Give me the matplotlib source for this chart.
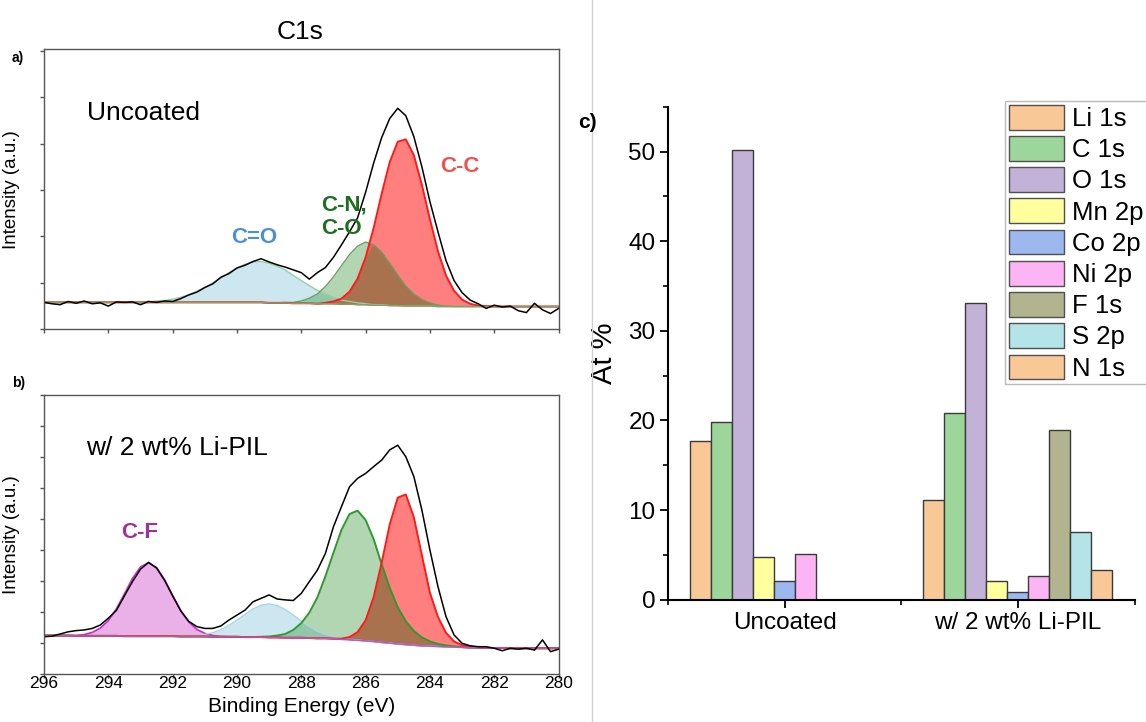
import numpy as np
import matplotlib
matplotlib.use("Agg")
import matplotlib.pyplot as plt
from matplotlib.lines import Line2D
from matplotlib.ticker import MultipleLocator

plt.rcParams["font.family"] = ["Liberation Sans", "DejaVu Sans"]

# binding energy grid of the spectra (eV), 0.25 eV steps from 296 down to 280
ENERGY = np.linspace(296, 280, 65)

# ---- panel a: uncoated C1s (intensity in a.u.) ----
BG_A = [0.58] * 24 + [
    0.58, 0.58, 0.58, 0.58, 0.57, 0.57, 0.57, 0.56,
    0.56, 0.56, 0.55, 0.55, 0.55, 0.54, 0.54, 0.53,
    0.53, 0.52, 0.52, 0.51, 0.51, 0.50, 0.50, 0.50,
    0.50, 0.49, 0.49, 0.49, 0.49, 0.49, 0.49, 0.49,
] + [0.49] * 9
CO_A = [0.0] * 12 + [
    0.01, 0.01, 0.03, 0.04,
    0.07, 0.11, 0.16, 0.24, 0.32, 0.42, 0.53, 0.64,
    0.74, 0.82, 0.87, 0.88, 0.85, 0.79, 0.71, 0.60,
    0.49, 0.38, 0.29, 0.21, 0.14, 0.09, 0.06, 0.04,
    0.02, 0.01, 0.01,
] + [0.0] * 22
CN_A = [0.0] * 30 + [
    0.01, 0.02,
    0.05, 0.11, 0.21, 0.37, 0.58, 0.83, 1.07, 1.26,
    1.35, 1.30, 1.14, 0.91, 0.66, 0.43, 0.26, 0.14,
    0.07, 0.03, 0.01,
] + [0.0] * 14
CC_A = [0.0] * 35 + [
    0.02, 0.05, 0.12, 0.27, 0.56,
    1.02, 1.66, 2.40, 3.09, 3.53, 3.59, 3.25, 2.61,
    1.87, 1.19, 0.67, 0.34, 0.15, 0.06, 0.02, 0.01,
] + [0.0] * 9
RAW_A = [
    0.58, 0.55, 0.53, 0.60, 0.56, 0.61, 0.55, 0.57,
    0.50, 0.59, 0.58, 0.59, 0.53, 0.60, 0.58, 0.61,
    0.60, 0.66, 0.74, 0.80, 0.90, 0.98, 1.12, 1.20,
    1.32, 1.38, 1.46, 1.52, 1.45, 1.39, 1.34, 1.28,
    1.22, 1.08, 1.22, 1.33, 1.55, 1.82, 2.10, 2.40,
    2.95, 3.58, 4.13, 4.54, 4.76, 4.60, 4.15, 3.50,
    2.75, 2.10, 1.48, 1.05, 0.79, 0.63, 0.55, 0.45,
    0.52, 0.48, 0.50, 0.40, 0.36, 0.56, 0.42, 0.34,
    0.45,
]

# ---- panel b: w/ 2 wt% Li-PIL C1s ----
BG_B = [
    1.24, 1.24, 1.24, 1.24, 1.23, 1.23, 1.23, 1.23,
    1.23, 1.23, 1.22, 1.22, 1.22, 1.22, 1.22, 1.22,
    1.22, 1.21, 1.21, 1.21, 1.21, 1.20, 1.20, 1.20,
    1.20, 1.19, 1.19, 1.19, 1.18, 1.18, 1.17, 1.17,
    1.17, 1.16, 1.15, 1.15, 1.14, 1.12, 1.11, 1.09,
    1.07, 1.05, 1.02, 1.00, 0.97, 0.95, 0.93, 0.91,
    0.90, 0.89, 0.88, 0.87, 0.86, 0.85, 0.85, 0.84,
    0.84, 0.84, 0.83, 0.83, 0.83, 0.83, 0.83, 0.83,
    0.83,
]
CF_B = [
    0.0, 0.0, 0.0, 0.0, 0.01, 0.04, 0.11, 0.25,
    0.49, 0.87, 1.36, 1.86, 2.23, 2.37, 2.21, 1.82,
    1.31, 0.84, 0.47, 0.23, 0.10, 0.04, 0.01,
] + [0.0] * 42
CO_B = [0.0] * 17 + [
    0.01, 0.01, 0.03, 0.07, 0.13, 0.23, 0.37,
    0.54, 0.73, 0.91, 1.03, 1.08, 1.03, 0.91, 0.73,
    0.54, 0.37, 0.23, 0.13, 0.07, 0.03, 0.01, 0.01,
] + [0.0] * 25
CN_B = [0.0] * 27 + [
    0.01, 0.03, 0.06, 0.12, 0.25,
    0.47, 0.82, 1.32, 2.00, 2.77, 3.53, 4.05, 4.18,
    3.90, 3.30, 2.52, 1.78, 1.18, 0.75, 0.46, 0.27,
    0.15, 0.08, 0.04, 0.02, 0.01,
] + [0.0] * 12
CC_B = [0.0] * 37 + [
    0.02, 0.08, 0.26,
    0.66, 1.43, 2.57, 3.82, 4.72, 4.84, 4.13, 2.92,
    1.72, 0.95, 0.45, 0.18, 0.07, 0.03, 0.01,
] + [0.0] * 10
RAW_B = [
    1.20, 1.22, 1.29, 1.36, 1.40, 1.42, 1.47, 1.58,
    1.80, 2.05, 2.52, 2.98, 3.38, 3.60, 3.42, 3.02,
    2.52, 2.04, 1.70, 1.53, 1.47, 1.47, 1.55, 1.74,
    1.90, 2.06, 2.33, 2.44, 2.55, 2.42, 2.39, 2.37,
    2.60, 2.98, 3.35, 3.89, 4.75, 5.40, 6.04, 6.31,
    6.47, 6.69, 6.90, 7.23, 7.38, 7.01, 6.37, 5.29,
    4.00, 2.82, 1.85, 1.26, 0.99, 0.91, 0.88, 0.88,
    0.83, 0.75, 0.83, 0.80, 0.83, 0.77, 1.10, 0.72,
    0.80,
]

# ---- panel c: atomic percentages ----
SAMPLES = ["Uncoated", "w/ 2 wt% Li-PIL"]
SPECIES = ["Li 1s", "C 1s", "O 1s", "Mn 2p", "Co 2p", "Ni 2p", "F 1s", "S 2p", "N 1s"]
AT_UNCOATED = [17.7, 19.8, 50.2, 4.8, 2.1, 5.1, np.nan, np.nan, np.nan]
AT_COATED = [11.1, 20.8, 33.1, 2.1, 0.8, 2.6, 18.9, 7.6, 3.3]
BAR_COLORS = ["#F9C897", "#9DD69B", "#C3B2D7", "#FFFF9E", "#9CB8EF",
              "#FDB4F4", "#B1B48F", "#B4E3E8", "#F9C897"]

SPINE = "#555555"
BROWN = "#A8724E"


def style_spectrum_axes(ax, ymax):
    ax.set_xlim(296, 280)
    ax.set_ylim(0, ymax)
    ax.xaxis.set_major_locator(MultipleLocator(2))
    ax.yaxis.set_major_locator(MultipleLocator(1))
    ax.set_yticklabels([])
    for s in ax.spines.values():
        s.set_color(SPINE)
        s.set_linewidth(1.0)
    ax.tick_params(direction="out", length=3, width=1, color=SPINE)
    ax.set_ylabel("Intensity (a.u.)", fontsize=13.5)
    ax.yaxis.set_label_coords(-0.047, 0.5)


def draw_peaks(ax, bg, comps, red_green, raw, bg_color):
    bg = np.asarray(bg)
    for values, fill, alpha, edge, lw in comps:
        top = bg + np.asarray(values)
        ax.fill_between(ENERGY, bg, top, color=fill, alpha=alpha, linewidth=0)
    both = np.minimum(red_green[0], red_green[1])
    ax.fill_between(ENERGY, bg, bg + both, color=BROWN, linewidth=0)
    for values, fill, alpha, edge, lw in comps:
        ax.plot(ENERGY, bg + np.asarray(values), color=edge, linewidth=lw)
    ax.plot(ENERGY, bg, color=bg_color, linewidth=1.0)
    ax.plot(ENERGY, raw, color="black", linewidth=1.1)


fig = plt.figure(figsize=(11.46, 7.22), dpi=100)

ax_a = fig.add_axes([0.0384, 0.5439, 0.449, 0.3878])
draw_peaks(
    ax_a, BG_A,
    [
        (CO_A, "#ADD8E6", 0.6, "#96CDA5", 1.0),
        (CN_A, "#228B22", 0.35, "#6E9C62", 1.0),
        (CC_A, "#FF0000", 0.5, "#FF1A1A", 1.4),
    ],
    (CN_A, CC_A), RAW_A, "#7FA36B",
)
style_spectrum_axes(ax_a, 6.03)
ax_a.set_xticklabels([])
ax_a.text(0.083, 0.771, "Uncoated", transform=ax_a.transAxes, fontsize=19, va="center")
ax_a.text(289.45, 1.97, "C=O", color="#4A90D9", fontsize=16, fontweight="bold", ha="center", va="center")
ax_a.text(287.38, 2.43, "C-N,\nC-O", color="#1E6E1E", fontsize=16, fontweight="bold",
          ha="left", va="center", linespacing=1.15)
ax_a.text(283.08, 3.50, "C-C", color="#F05050", fontsize=16, fontweight="bold", ha="center", va="center")

ax_b = fig.add_axes([0.0384, 0.0665, 0.449, 0.3864])
draw_peaks(
    ax_b, BG_B,
    [
        (CF_B, "#DA70D6", 0.55, "#CC33CC", 1.3),
        (CO_B, "#ADD8E6", 0.6, "#A6D6E3", 1.0),
        (CN_B, "#228B22", 0.35, "#2E9A2E", 1.4),
        (CC_B, "#FF0000", 0.5, "#FF1A1A", 1.4),
    ],
    (CN_B, CC_B), RAW_B, "#B060B0",
)
style_spectrum_axes(ax_b, 9)
ax_b.tick_params(axis="x", labelsize=12.5, pad=-1.5)
ax_b.set_xlabel("Binding Energy (eV)", fontsize=15, labelpad=4)
ax_b.text(0.082, 0.81, "w/ 2 wt% Li-PIL", transform=ax_b.transAxes, fontsize=19, va="center")
ax_b.text(293.03, 4.58, "C-F", color="#A0309F", fontsize=16, fontweight="bold", ha="center", va="center")

fig.text(0.2618, 0.956, "C1s", fontsize=19, ha="center", va="center")
fig.text(0.0153, 0.9197, "a)", fontsize=10, fontweight="bold", ha="center", va="center")
fig.text(0.0160, 0.4695, "b)", fontsize=10, fontweight="bold", ha="center", va="center")

# separator between the spectra and the bar chart
fig.add_artist(Line2D([592 / 1146, 592 / 1146], [0, 1], transform=fig.transFigure,
                      color="#D0D0D0", linewidth=1.0))
fig.text(0.513, 0.831, "c)", fontsize=15, fontweight="bold", ha="center", va="center",
         bbox=dict(facecolor="white", edgecolor="none", pad=0.5))

ax_c = fig.add_axes([0.5829, 0.1695, 0.4071, 0.6825])
width = 0.09
centers = np.arange(1, len(SAMPLES) + 1)
for k, (name, color) in enumerate(zip(SPECIES, BAR_COLORS)):
    vals = [AT_UNCOATED[k], AT_COATED[k]]
    ax_c.bar(centers + (k - 4) * width, vals, width=width, color=color,
             edgecolor="#3A3A3A", linewidth=1.0, label=name)
ax_c.set_xlim(0.5, 2.5)
ax_c.set_ylim(0, 55)
ax_c.set_xticks(centers)
ax_c.set_xticklabels(SAMPLES)
ax_c.xaxis.set_minor_locator(MultipleLocator(0.5))
ax_c.yaxis.set_major_locator(MultipleLocator(10))
ax_c.yaxis.set_minor_locator(MultipleLocator(5))
ax_c.spines["top"].set_visible(False)
ax_c.spines["right"].set_visible(False)
for side in ("left", "bottom"):
    ax_c.spines[side].set_linewidth(1.5)
ax_c.tick_params(which="major", direction="out", length=6, width=1.3, labelsize=17.5, pad=3)
ax_c.tick_params(which="minor", direction="out", length=3.5, width=1.2)
ax_c.set_ylabel("At %", fontsize=21)
ax_c.yaxis.set_label_coords(-0.107, 0.5)

leg = ax_c.legend(
    loc="upper left", bbox_to_anchor=(1005 / 1146, 1 - 101 / 722), bbox_transform=fig.transFigure,
    fontsize=18.5, frameon=True, fancybox=False, edgecolor="#BBBBBB", framealpha=1,
    handlelength=2.15, handleheight=1.1, labelspacing=0.2, handletextpad=0.3,
    borderpad=0.15, borderaxespad=0,
)
for patch in leg.get_patches():
    patch.set_edgecolor("#505050")

fig.savefig("out.png", dpi=100)
